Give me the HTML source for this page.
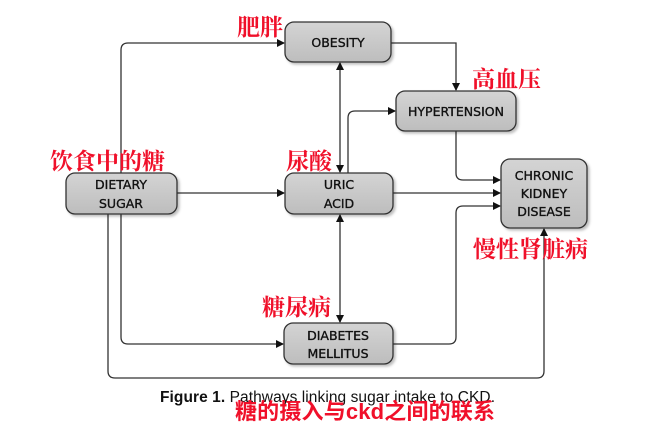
<!DOCTYPE html>
<html><head><meta charset="utf-8"><style>
html,body{margin:0;padding:0;background:#fff;width:646px;height:426px;overflow:hidden}
</style></head><body>
<svg width="646" height="426" viewBox="0 0 646 426" xmlns="http://www.w3.org/2000/svg">
<defs>
<marker id="a" markerWidth="8" markerHeight="8" refX="7" refY="4" orient="auto" markerUnits="userSpaceOnUse"><path d="M0,0 L8,4 L0,8 z" fill="#111"/></marker>
<linearGradient id="g" x1="0" y1="0" x2="0" y2="1"><stop offset="0" stop-color="#d4d4d4"/><stop offset="1" stop-color="#bdbdbd"/></linearGradient>
<filter id="s"><feDropShadow dx="2" dy="2" stdDeviation="1.2" flood-color="#000" flood-opacity="0.25"/></filter>
</defs>
<g fill="none" stroke="#333" stroke-width="1.3">
<path d="M121,173 V50 Q121,43 128,43 H284" marker-end="url(#a)"/>
<path d="M177,193 H284" marker-end="url(#a)"/>
<path d="M340,118 V63" marker-end="url(#a)"/>
<path d="M340,118 V172" marker-end="url(#a)"/>
<path d="M391,43 H456 V90" marker-end="url(#a)"/>
<path d="M348,173 V118 Q348,111 355,111 H395" marker-end="url(#a)"/>
<path d="M456,131 V173 Q456,180 463,180 H500" marker-end="url(#a)"/>
<path d="M393,193 H500" marker-end="url(#a)"/>
<path d="M393,344 H449 Q456,344 456,337 V213 Q456,206 463,206 H500" marker-end="url(#a)"/>
<path d="M340,268 V215" marker-end="url(#a)"/>
<path d="M340,268 V322" marker-end="url(#a)"/>
<path d="M121,214 V337 Q121,344 128,344 H283" marker-end="url(#a)"/>
<path d="M108,214 V371 Q108,378 115,378 H537 Q544,378 544,371 V229" marker-end="url(#a)"/>
</g>
<g fill="url(#g)" stroke="#333" stroke-width="1.3" filter="url(#s)">
<rect x="285" y="22" width="106" height="40" rx="9"/>
<rect x="396" y="91" width="120" height="40" rx="9"/>
<rect x="66" y="173" width="111" height="41" rx="9"/>
<rect x="285" y="173" width="108" height="41" rx="9"/>
<rect x="501" y="159" width="86" height="69" rx="9"/>
<rect x="284" y="323" width="109" height="41" rx="9"/>
</g>
<g font-family="DejaVu Sans, sans-serif" font-size="12.5" fill="#111" stroke="#111" stroke-width="0.35" text-anchor="middle">
<text x="338" y="47">OBESITY</text>
<text x="456" y="116">HYPERTENSION</text>
<text x="121" y="189">DIETARY</text>
<text x="121" y="208">SUGAR</text>
<text x="339" y="189">URIC</text>
<text x="339" y="208">ACID</text>
<text x="544" y="180">CHRONIC</text>
<text x="544" y="198">KIDNEY</text>
<text x="544" y="216">DISEASE</text>
<text x="338" y="340">DIABETES</text>
<text x="338" y="358">MELLITUS</text>
</g>
<g font-family="Noto Serif CJK SC, serif" font-size="23" font-weight="bold" fill="#f0102a">
<text x="237" y="35">肥胖</text>
<text x="472" y="87">高血压</text>
<text x="50" y="169">饮食中的糖</text>
<text x="286" y="169">尿酸</text>
<text x="473" y="257">慢性肾脏病</text>
<text x="262" y="315">糖尿病</text>
</g>
<text x="160" y="402" font-family="Liberation Sans, sans-serif" font-size="15.5" textLength="335" fill="#111"><tspan font-weight="bold">Figure 1.</tspan>  Pathways linking sugar intake to CKD.</text>
<text x="235" y="419" font-family="Liberation Sans, Noto Sans CJK SC, sans-serif" font-size="22" font-weight="bold" fill="#f0102a" textLength="260">糖的摄入与ckd之间的联系</text>
</svg>
</body></html>
